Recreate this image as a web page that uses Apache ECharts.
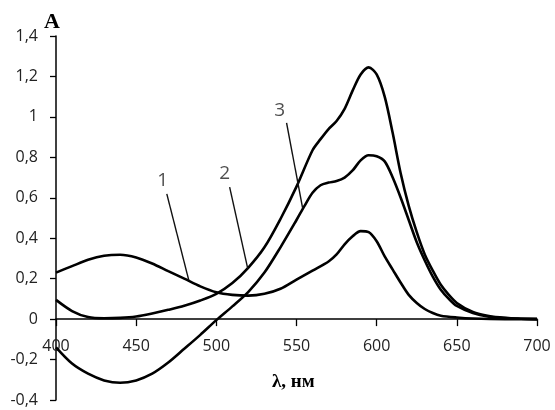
<!DOCTYPE html>
<html><head><meta charset="utf-8">
<script src="https://cdn.jsdelivr.net/npm/echarts@6/dist/echarts.min.js"></script>
<style>html,body{margin:0;padding:0;background:#fff}#c{width:555px;height:410px}</style>
</head><body><div id="c"></div>
<script>
// wavelengths (nm)
const wl1 = [400,410,420,430,440,450,460,470,480,490,500,510,520,530,540,550,560,570,575,580,585,590,595,600,605,610,615,620,625,630,635,640,650,660,680,700];
const curve1 = [0.23,0.262,0.293,0.313,0.318,0.305,0.275,0.237,0.2,0.162,0.133,0.12,0.116,0.125,0.15,0.195,0.24,0.285,0.32,0.37,0.41,0.435,0.43,0.385,0.31,0.245,0.18,0.12,0.08,0.05,0.03,0.017,0.008,0.003,0.0,0.0];

const wl2 = [400,410,420,430,440,450,460,470,480,490,500,510,520,530,540,550,560,565,570,575,580,585,590,595,600,605,610,615,620,625,630,635,640,645,650,660,670,680,690,700];
const curve2 = [0.095,0.04,0.01,0.004,0.006,0.013,0.028,0.046,0.066,0.092,0.125,0.178,0.255,0.355,0.495,0.655,0.835,0.89,0.94,0.98,1.04,1.13,1.21,1.245,1.21,1.10,0.92,0.72,0.56,0.43,0.32,0.24,0.17,0.12,0.08,0.035,0.015,0.006,0.002,0.0];

const wl3 = [400,410,420,430,440,450,460,470,480,490,500,510,520,530,540,550,555,560,565,570,575,580,585,590,595,600,605,610,615,620,625,630,635,640,645,650,660,670,680,690,700];
const curve3 = [-0.14,-0.22,-0.27,-0.303,-0.315,-0.303,-0.27,-0.215,-0.147,-0.078,-0.005,0.063,0.135,0.23,0.355,0.49,0.56,0.625,0.662,0.675,0.683,0.70,0.735,0.785,0.81,0.805,0.78,0.70,0.60,0.49,0.38,0.29,0.21,0.145,0.10,0.065,0.03,0.012,0.005,0.002,0.0];

const xTickLabels = ['400','450','500','550','600','650','700'];
const yTickLabels = ['-0,4','-0,2','0','0,2','0,4','0,6','0,8','1','1,2','1,4'];

// curve number annotations: label position and leader line (data coords)
const curveNames = ['1','2','3'];
const labelPos = [[466.6,0.683],[505.2,0.718],[539.5,1.03]];
const leaderStart = [[469.1,0.619],[508.3,0.653],[543.8,0.970]];
const leaderEnd = [[482.8,0.193],[519.6,0.250],[553.8,0.550]];

const yMin = -0.4, yMax = 1.4;
const gridTop = 36, gridBottom = 10, H = 410;
const gridH = H - gridTop - gridBottom;
// lift the x axis (labels + ticks) from the grid bottom to the y = 0 line
const xAxisOffset = -gridH * (0 - yMin) / (yMax - yMin);

const zip = (a,b)=>a.map((v,i)=>[v,b[i]]);
const curveStyle = {type:'line', smooth:0.3, showSymbol:false, silent:true,
  lineStyle:{color:'#000', width:2.6}};
const series = [
  Object.assign({}, curveStyle, {name:'1', data:zip(wl1,curve1)}),
  Object.assign({}, curveStyle, {name:'2', data:zip(wl2,curve2)}),
  Object.assign({}, curveStyle, {name:'3', data:zip(wl3,curve3)})
];
curveNames.forEach((n,i)=>{
  series.push({type:'line', silent:true, showSymbol:false, data:[leaderStart[i],leaderEnd[i]],
    lineStyle:{color:'#111', width:1.4}});
});
series.push({type:'scatter', silent:true, symbolSize:0,
  data: curveNames.map((n,i)=>({name:n, value:labelPos[i]})),
  label:{show:true, position:'inside', formatter:'{b}', color:'#222', fontSize:19, fontFamily:'Open Sans'}});

const chart = echarts.init(document.getElementById('c'), null, {renderer:'canvas'});
chart.setOption({
  animation:false,
  backgroundColor:'#fff',
  grid:{left:56, right:18, top:gridTop, bottom:gridBottom, containLabel:false, outerBoundsMode:'none'},
  xAxis:{type:'value', min:400, max:700, interval:50, position:'bottom', offset:xAxisOffset,
    axisLine:{onZero:false, lineStyle:{color:'#000', width:1.5}},
    axisTick:{show:true, length:7, lineStyle:{color:'#000', width:1.3}},
    axisLabel:{margin:19, color:'#222', fontSize:16, fontFamily:'Open Sans',
      formatter:(v,i)=>xTickLabels[i]},
    splitLine:{show:false}},
  yAxis:{type:'value', min:yMin, max:yMax, interval:0.2,
    axisLine:{show:true, lineStyle:{color:'#000', width:1.5}},
    axisTick:{show:true, length:6, lineStyle:{color:'#000', width:1.3}},
    axisLabel:{margin:18, color:'#222', fontSize:16, fontFamily:'Open Sans',
      formatter:(v,i)=>yTickLabels[i]},
    splitLine:{show:false}},
  graphic:[
    {type:'text', left:44, top:11, style:{text:'A', font:'bold 22px "Liberation Serif"', fill:'#000'}},
    {type:'text', left:272, top:373, style:{text:'λ, нм', font:'bold 19px "Liberation Serif"', fill:'#000'}}
  ],
  series:series
});
</script></body></html>
